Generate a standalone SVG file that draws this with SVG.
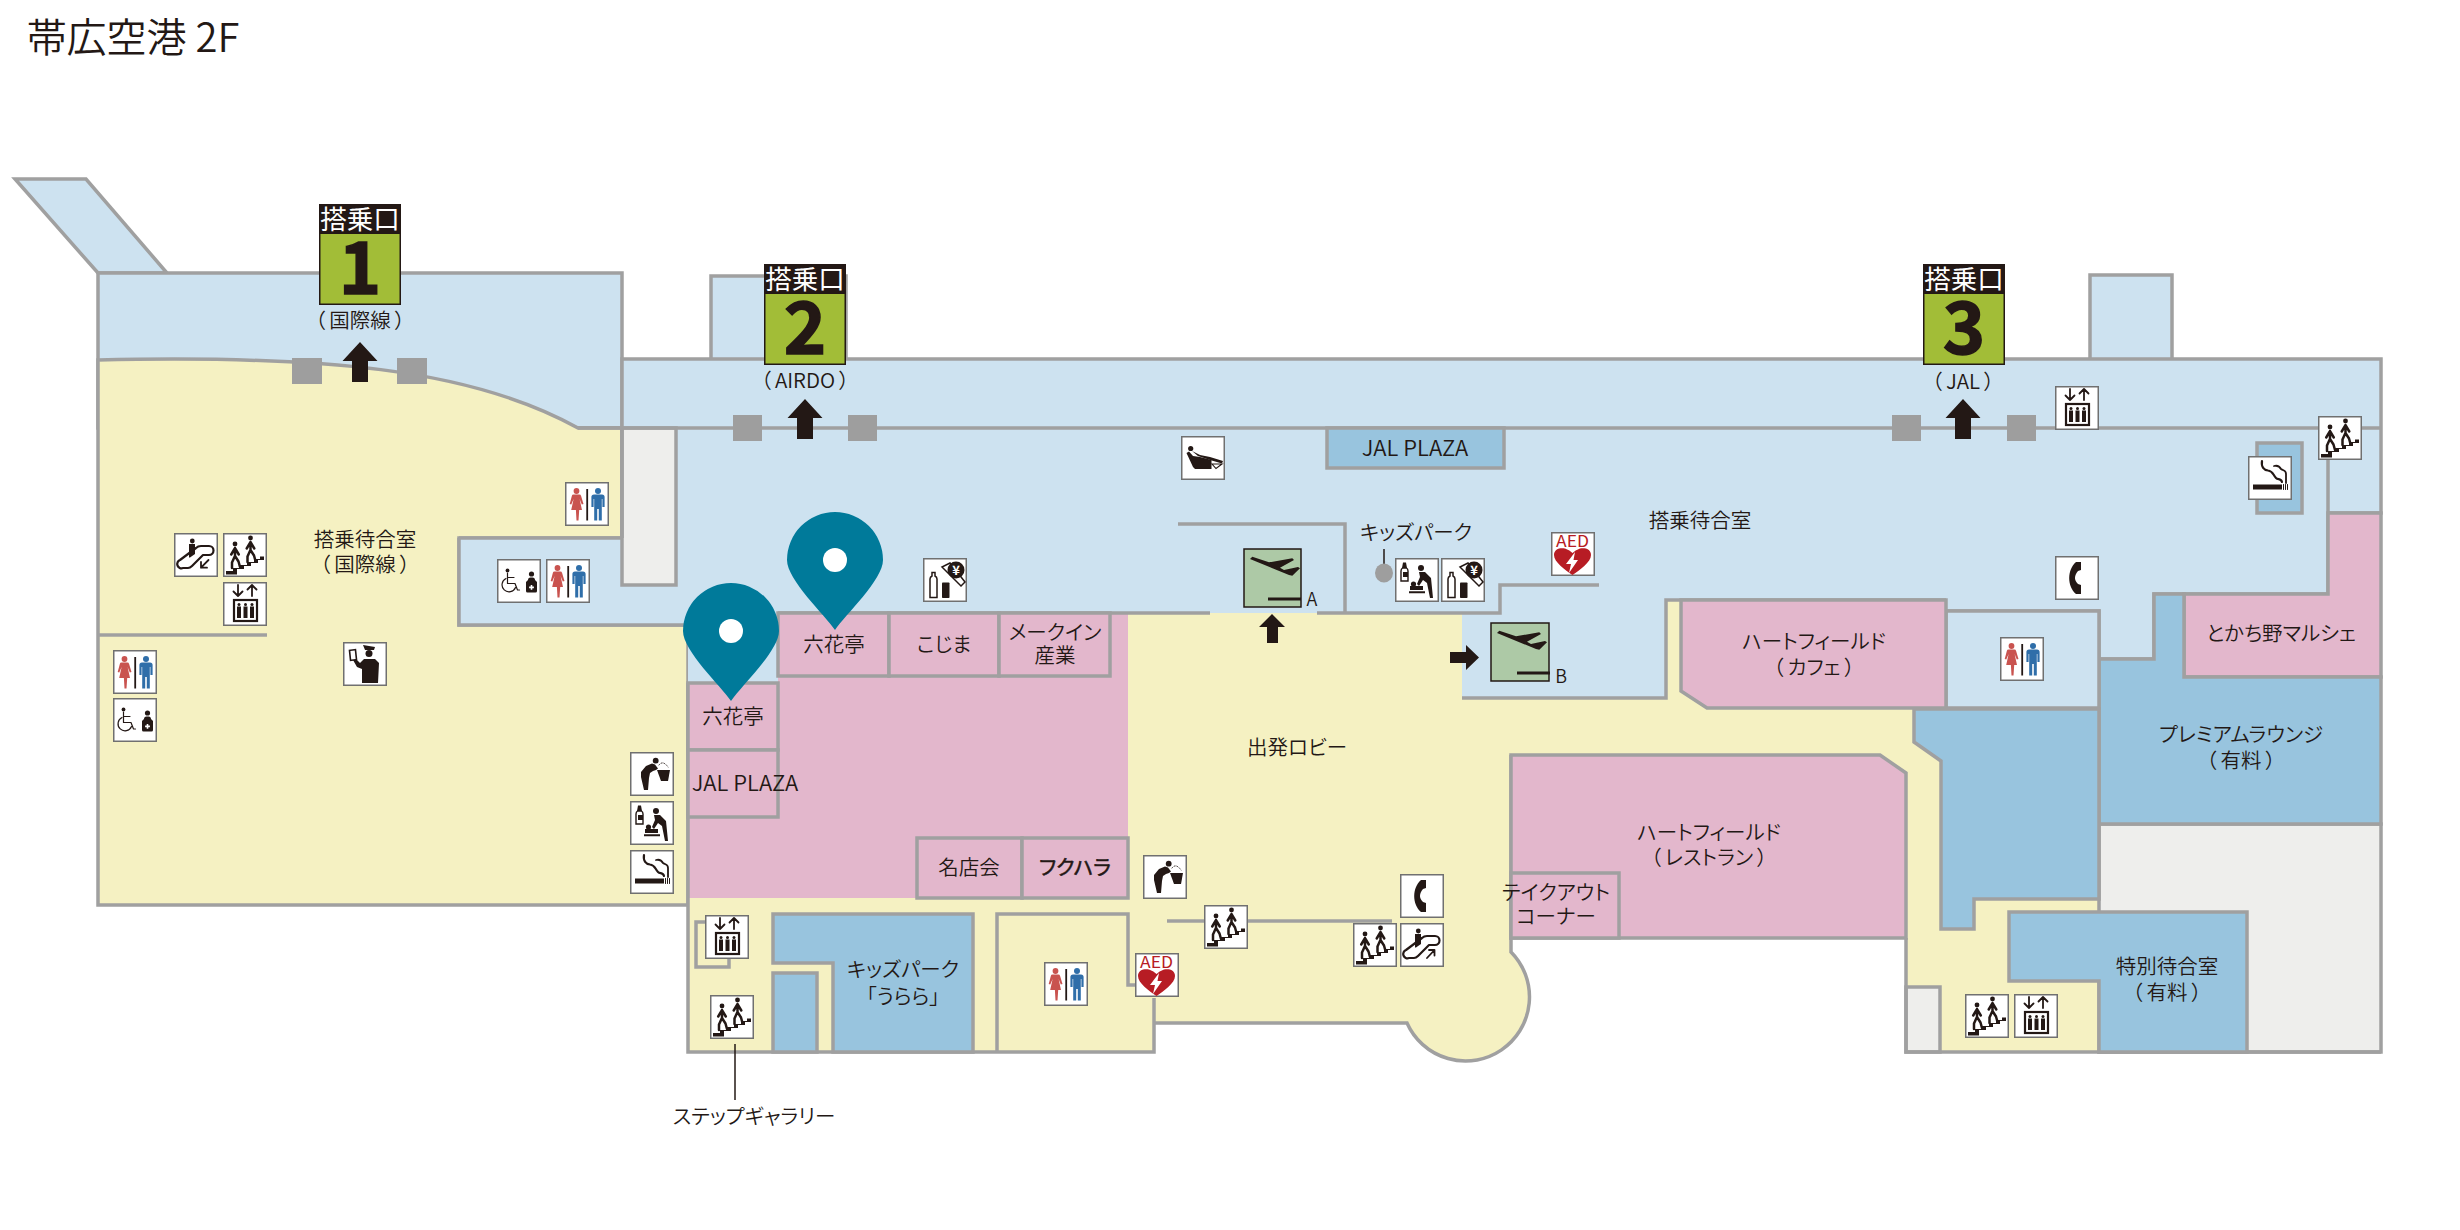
<svg xmlns="http://www.w3.org/2000/svg" xmlns:xlink="http://www.w3.org/1999/xlink" width="2460" height="1230" viewBox="0 0 2460 1230">
<style>
text{font-family:"Noto Sans CJK JP","Noto Sans",sans-serif;fill:#231815;text-anchor:middle;font-size:20.5px;font-weight:350;font-feature-settings:"palt"}
.b{stroke:#a0a0a0;stroke-width:3.5;stroke-linejoin:miter}
.l{fill:none;stroke:#a0a0a0;stroke-width:3.5}
.lb{fill:#cde2f0}.db{fill:#98c4de}.ye{fill:#f5f1c2}.pk{fill:#e3b7cc}.gy{fill:#eeeeec}
.pil{fill:#9e9e9e}
.k{fill:#231815}
.ks{fill:none;stroke:#231815;stroke-linecap:round;stroke-linejoin:round}
.ib{fill:#fff;stroke:#707070;stroke-width:1.5}
.pin{fill:#007a9a}
.lead{fill:none;stroke:#231815;stroke-width:1.5}
text.sl{fill:#fff;font-size:26.5px;font-weight:400}
text.dg{font-size:72px;font-weight:700;stroke:#231815;stroke-width:1.5}
text.jp{font-size:22px}
</style>
<defs>
<g id="up"><path class="k" d="M0,0 L17.5,19 H8 V40 H-8 V19 H-17.5Z"/></g>
<g id="signbase"><rect x="0" y="0" width="82" height="101" fill="#231815"/><rect x="1.5" y="30" width="79" height="69.5" fill="#a2bd37"/></g>
<symbol id="rest" viewBox="0 0 44 44"><rect class="ib" x=".75" y=".75" width="42.5" height="42.5"/>
<circle cx="11.5" cy="9" r="2.9" fill="#c9534f"/><path fill="#c9534f" d="M8.5,12.5 h6 q1.2,0 1.6,1.4 L18.5,22 l-1.7,.6 -2.2,-5.5 2.4,11 h-2.8 l-.7,10.5 h-2 l-.6,-10.5 H6.2 l2.4,-11 -2.3,5.5 -1.6,-.6 2.2,-8.2 q.2,-1.3 1.6,-1.3z"/>
<rect x="21.3" y="7" width="1.8" height="31.5" fill="#231815"/>
<circle cx="33" cy="9" r="3" fill="#2f6ea9"/><path fill="#2f6ea9" d="M29,12.5 h8 q2.6,0 2.6,2.6 V25 h-2.2 v-8 h-.6 V38.5 h-3 V27 h-1.6 V38.5 h-3 V17 h-.6 v8 H26.4 V15.1 q0,-2.6 2.6,-2.6z"/></symbol>
<symbol id="wheel" viewBox="0 0 44 44"><rect class="ib" x=".75" y=".75" width="42.5" height="42.5"/>
<g transform="translate(0,-2.5)"><circle cx="10.5" cy="14" r="1.9" class="k"/><path class="ks" stroke-width="1.2" d="M10.5,16.5 V27 H18 L20.5,33.5 h2 M10.5,21 H17"/><path class="ks" stroke-width="1.2" d="M9,22 A7,7 0 1 0 18.5,31"/></g>
<circle cx="34.5" cy="15" r="2.6" class="k"/><path class="k" d="M31,21 q0,-2.5 2.5,-2.5 h2 q2.5,0 2.5,2.5 l2,2 V32 q0,1.5 -1.5,1.5 H30.5 q-1.5,0 -1.5,-1.5 V23z"/><path fill="#fff" d="M33.7,26 h1.6 v1.6 h1.6 v1.6 h-1.6 v1.6 h-1.6 v-1.6 h-1.6 v-1.6 h1.6z"/></symbol>
<g id="men"><circle cx="0" cy="0" r="2.4" class="k"/><path class="ks" stroke-width="2.5" d="M0,4 V12 M-.2,4.5 L-3.8,10.5 M.2,4.5 L3.8,10.5 M-.3,12.5 L-3,18.5 V24 M.3,12.5 L3.5,17.5 L5,23"/></g>
<symbol id="stairs" viewBox="0 0 44 44"><rect class="ib" x=".75" y=".75" width="42.5" height="42.5"/>
<use xlink:href="#men" x="12" y="11"/><use xlink:href="#men" x="27.5" y="5"/>
<path class="k" d="M3,41.5 V38 H10 V35 H17 V32 H24 V29 H31 V26 H37 V23.5 H41 V27 H35 V30 H28 V33 H21 V36 H14 V41.5Z"/></symbol>
<symbol id="elev" viewBox="0 0 44 44"><rect class="ib" x=".75" y=".75" width="42.5" height="42.5"/>
<path class="ks" stroke-width="1.8" d="M15,3 V14 M10.5,9.5 L15,14 L19.5,9.5 M29,14 V3 M24.5,7.5 L29,3 L33.5,7.5"/>
<rect x="11" y="18" width="23" height="21" fill="#fff" stroke="#231815" stroke-width="2.2"/>
<g class="k"><circle cx="16" cy="22.5" r="1.5"/><circle cx="22.5" cy="22.5" r="1.5"/><circle cx="29" cy="22.5" r="1.5"/><rect x="14" y="24.5" width="4" height="11.5"/><rect x="20.5" y="24.5" width="4" height="11.5"/><rect x="27" y="24.5" width="4" height="11.5"/></g></symbol>
<g id="escbase"><path class="ks" stroke-width="2.2" d="M6,27 L22,15 Q24,13 27,13 H35 A4.5,4.5 0 0 1 35,22 H29 L18,33 Q16,35 14,35 H9 A4,4 0 0 1 6,27Z"/><circle cx="18.3" cy="8" r="2.4" class="k"/><path class="k" d="M15,11 h6 V21 L16,24.5 h-1z"/></g>
<symbol id="escdn" viewBox="0 0 44 44"><rect class="ib" x=".75" y=".75" width="42.5" height="42.5"/><use xlink:href="#escbase"/><path class="ks" stroke-width="1.8" d="M34.5,27 L27,34.7 M27,29 V34.7 H33"/></symbol>
<symbol id="escup" viewBox="0 0 44 44"><rect class="ib" x=".75" y=".75" width="42.5" height="42.5"/><use xlink:href="#escbase"/><path class="ks" stroke-width="1.8" d="M27,35 L34.5,27 M29,27 H34.5 V32.5"/></symbol>
<symbol id="smoke" viewBox="0 0 44 44"><rect class="ib" x=".75" y=".75" width="42.5" height="42.5"/>
<path class="ks" stroke-width="2.2" d="M14,5 C13,11 16,14 20,14.5 C25,15 25,19 28,22 C30,24 33,22 34,26"/><path class="ks" stroke-width="1.8" d="M26,10 C30,9 32,11 33,13 C36,15 38,14 38,18 V27"/>
<rect x="5" y="28.5" width="29" height="5" class="k"/><path class="ks" stroke-width="1" d="M35.5,28.5 V33.5 M37.5,28.5 V33.5 M39.5,28.5 V33.5"/></symbol>
<symbol id="phone" viewBox="0 0 44 44"><rect class="ib" x=".75" y=".75" width="42.5" height="42.5"/>
<path class="k" d="M26,6 L21,6 C12,14 12,30 21,38 L26,38 L26,29 L23,28 C19,24 19,20 23,15 L26,14z"/></symbol>
<symbol id="fount" viewBox="0 0 44 44"><rect class="ib" x=".75" y=".75" width="42.5" height="42.5"/>
<circle cx="25.7" cy="8.7" r="2.9" class="k"/><path class="k" d="M22,11.5 L25,12.5 L28,16.5 L26,18 L23,19 L20,21 L19,26 L18,38 H14 L11,25 V20 L16,14z"/><path class="k" d="M27,18 H40 L38,29 H31z"/><path class="ks" stroke-width=".9" stroke-dasharray="1 1.8" d="M29,13 Q33,8 38,15"/></symbol>
<symbol id="baby" viewBox="0 0 44 44"><rect class="ib" x=".75" y=".75" width="42.5" height="42.5"/>
<path fill="#fff" stroke="#231815" stroke-width="1.4" d="M6,13 q0,-2 1.5,-3 h4 q1.5,1 1.5,3 V23 H6z"/><path class="k" d="M8,4.5 h3 l1,5.5 h-5z M8,14 h5 v5 H8z"/>
<circle cx="26" cy="10" r="3" class="k"/><path class="k" d="M24,14 H30 L36,20 L38,40 H35 L32,25 L28,22 L24,28 L22,26 L25,19z"/>
<circle cx="18.5" cy="26" r="2.6" class="k"/><path class="k" d="M15,28 H28 V32 H15z M14,33.3 H30 V35.3 H14z"/></symbol>
<symbol id="vend" viewBox="0 0 44 44"><rect class="ib" x=".75" y=".75" width="42.5" height="42.5"/>
<path fill="#fff" stroke="#231815" stroke-width="1.5" d="M7,21 q0,-2 2,-3 V14.5 h3 V18 q2,1 2,3 V39.5 H7z"/>
<rect x="19" y="24.5" width="7.5" height="15.5" rx=".8" class="k"/>
<path fill="#fff" stroke="#231815" stroke-width="1.5" d="M19,9 L38,28 L42,24 L27,5z"/>
<circle cx="33" cy="12" r="8.5" class="k"/><text x="33" y="16.5" style="fill:#fff;font-size:13px;font-weight:700">¥</text></symbol>
<symbol id="aed" viewBox="0 0 44 44"><rect class="ib" x=".75" y=".75" width="42.5" height="42.5"/>
<text x="21.5" y="15" textLength="33" lengthAdjust="spacingAndGlyphs" style="fill:#b71c24;font-size:16px;font-weight:400">AED</text>
<path fill="#b71c24" d="M21.5,43 C14,38 3,30 3,23 C3,17 9,15.5 14,16.5 Q19,18 21.5,21 Q24,18 29,16.5 C34,15.5 40,17 40,23 C40,30 29,38 21.5,43Z"/>
<path fill="#fff" d="M24,20 L15,32 H20 L18,41 L27,28 H22.5z"/></symbol>
<symbol id="seat" viewBox="0 0 44 44"><rect class="ib" x=".75" y=".75" width="42.5" height="42.5"/>
<circle cx="9.7" cy="12.5" r="2.6" class="k"/><path class="k" d="M5.5,17 L8,15.5 L12,20 L19,21 L30.5,24 V33 H14 L12,31z"/><path class="k" d="M11,15 L19,19 L29,21 L42,25 L41,27.5 L29,24 L17,20z"/><path fill="#fff" stroke="#231815" stroke-width="1.1" d="M31,28 L41,28 L35,32.5z"/></symbol>
<symbol id="off" viewBox="0 0 44 44"><rect class="ib" x=".75" y=".75" width="42.5" height="42.5"/>
<path class="k" d="M20,3 L32,5 L31,8 H22z"/><circle cx="26" cy="11.5" r="3.5" class="k"/>
<path class="k" d="M21,17 L32,17 L36,21 L35,41 H19 V27 L14,25 L10,18 L13,17 L17,21z"/>
<rect x="7" y="8" width="6" height="10" fill="#fff" stroke="#231815" stroke-width="1.6" transform="rotate(-6 10 13)"/></symbol>
<g id="plane"><path class="k" d="M6,10 L8.3,7.7 L25,13.3 L48.3,9.3 L50,11 L36,18.7 L40,21 L54,18 L56,19.3 L48.3,26.7 L45,26Z"/></g>
</defs>
<rect width="2460" height="1230" fill="#fff"/>
<g id="floor">
<polygon id="wing" class="lb b" points="15,179 86,179 167,273 98,273"/>
<polygon id="gate-hall-1" class="lb b" points="98,273 622,273 622,428 98,428"/>
<path id="intl-lounge" class="ye b" d="M98,360 C320,355 470,368 578,428 L622,428 V538 H459 V625 H688 V905 H98Z"/>
<rect x="711" y="276" width="135" height="85" class="lb b"/>
<rect x="2090" y="275" width="82" height="85" class="lb b"/>
<path id="lobby" class="ye" d="M1128,600 H1946 V708 H1914 V742 L1941,761 V929 H1974 V899 H2099 V1052 H1906 V938 H1511 V952 A64,64 0 1 1 1407,1023 H1154 V1052 H688 V898 H1128Z"/>
<path id="main-hall" class="lb" d="M622,359 H2381 V513 H2328 V594 H2154 V659 H2099 V708 H1946 V600 H1666 V698 H1462 V613 H778 V683 H688 V625 H459 V538 H622Z"/>
<rect x="622" y="428" width="54" height="157" class="gy b"/>
<path id="shop-block" class="pk" d="M778,613 H1128 V898 H688 V683 H778Z"/>
<rect x="2099" y="824" width="282" height="228" class="gy b"/>
<rect x="1906" y="987" width="34" height="65" class="gy b"/>
<path class="l" d="M688,683 V1052 H1154 V1023 H1407 A64,64 0 1 0 1511,952 V938 M1906,938 V1052 H2381 M1511,938 V755 M1154,998 V1023"/>
<path class="l" d="M622,538 V359 H2381 V513 H2328 M459,538 H622 M459,538 V625 H688 M778,613 H1210 M1317,613 H1500 V585 H1599 M1345,613 V524 H1178 M1462,698 H1666 V600 H1946 M1946,611 H2099 V708 M2099,659 H2154 V594 H2328 V428 M578,428 H2381"/>
<rect x="1327" y="428" width="177" height="40" class="db b"/>
<rect x="2257" y="443" width="45" height="70" class="db b"/>
<path class="pk b" d="M2328,513 H2381 V677 H2184 V594 H2328Z"/>
<path class="db b" d="M2099,659 H2154 V594 H2184 V677 H2381 V824 H2099Z"/>
<path class="db b" d="M1914,709 H2099 V899 H1974 V929 H1941 V761 L1914,742Z"/>
<path class="db b" d="M2009,912 H2247 V1052 H2099 V981 H2009Z"/>
<path class="lb b" d="M1946,611 H2099 V708 H1946Z"/>
<path class="pk b" d="M1681,600 H1946 V708 H1707 L1681,691Z"/>
<path class="pk b" d="M1511,755 H1880 L1906,773 V938 H1511Z"/>
<rect x="1511" y="873" width="108" height="65" class="pk b"/>
<rect x="688" y="683" width="90" height="67" class="pk b"/>
<rect x="688" y="750" width="90" height="67" class="pk b"/>
<rect x="778" y="613" width="111" height="63" class="pk b"/>
<rect x="889" y="613" width="110" height="63" class="pk b"/>
<rect x="999" y="613" width="111" height="63" class="pk b"/>
<rect x="917" y="838" width="105" height="60" class="pk b"/>
<rect x="1022" y="838" width="106" height="60" class="pk b"/>
<path class="db b" d="M773,914 H973 V1052 H833 V963 H773Z"/>
<rect x="773" y="973" width="44" height="79" class="db b"/>
<path class="l" d="M1135,985 H1128 V914 H997 V1052"/>
<path class="l" d="M1167,921 H1392"/>
<path class="l" d="M267,635 H97"/>
<path class="l" d="M705,922 H696 V967 H729 V959"/>
</g>
<g id="connectors">
<path class="lead" d="M735,1044 V1100"/>
<path class="lead" d="M1384,549 V566"/>
</g>
<ellipse id="kids-marker" cx="1384" cy="573" rx="9" ry="9.5" fill="#9e9e9e"/>
<g id="pillars" class="pil">
<rect x="292" y="358" width="30" height="26"/><rect x="397" y="358" width="30" height="26"/>
<rect x="733" y="415" width="29" height="26"/><rect x="848" y="415" width="29" height="26"/>
<rect x="1892" y="415" width="29" height="26"/><rect x="2007" y="415" width="29" height="26"/>
</g>
<g id="arrows">
<use xlink:href="#up" x="360" y="342"/><use xlink:href="#up" x="805" y="399"/><use xlink:href="#up" x="1963" y="399"/>
<path class="k" d="M1272,614 L1285,627 H1278 V643 H1267 V627 H1259Z"/>
<path class="k" d="M1479,657.5 L1466,645 V652 H1450 V663 H1466 V670Z"/>
</g>
<g id="gate-1"><use xlink:href="#signbase" x="319" y="204"/><text class="sl" x="360" y="229">搭乗口</text><text class="dg" x="360" y="294">1</text><text x="360" y="328">（<tspan dx="4">国際線</tspan><tspan dx="4">）</tspan></text></g>
<g id="gate-2"><use xlink:href="#signbase" x="764" y="264"/><text class="sl" x="805" y="289">搭乗口</text><text class="dg" x="805" y="354">2</text><text x="805" y="388">（<tspan dx="4">AIRDO</tspan><tspan dx="4">）</tspan></text></g>
<g id="gate-3"><use xlink:href="#signbase" x="1923" y="264"/><text class="sl" x="1964" y="289">搭乗口</text><text class="dg" x="1964" y="354">3</text><text x="1963" y="389">（<tspan dx="4">JAL</tspan><tspan dx="4">）</tspan></text></g>
<g id="gate-a"><rect x="1244" y="549" width="57" height="58" fill="#adc9a6" stroke="#231815" stroke-width="1.5"/><use xlink:href="#plane" x="1244" y="549"/><rect x="1268" y="597.5" width="33" height="3" class="k"/><text x="1312" y="606" style="font-size:18px">A</text></g>
<g id="gate-b"><rect x="1491" y="623" width="58" height="58" fill="#adc9a6" stroke="#231815" stroke-width="1.5"/><use xlink:href="#plane" x="1491" y="623"/><rect x="1517" y="671.5" width="33" height="3" class="k"/><text x="1561" y="683" style="font-size:18px">B</text></g>
<g id="icons">
<use xlink:href="#rest" x="565" y="482" width="44" height="44"/>
<use xlink:href="#escdn" x="174" y="533" width="44" height="44"/>
<use xlink:href="#stairs" x="223" y="533" width="44" height="44"/>
<use xlink:href="#elev" x="223" y="582" width="44" height="44"/>
<use xlink:href="#wheel" x="497" y="559" width="44" height="44"/>
<use xlink:href="#rest" x="546" y="559" width="44" height="44"/>
<use xlink:href="#rest" x="113" y="650" width="44" height="44"/>
<use xlink:href="#wheel" x="113" y="698" width="44" height="44"/>
<use xlink:href="#off" x="343" y="642" width="44" height="44"/>
<use xlink:href="#fount" x="630" y="752" width="44" height="44"/>
<use xlink:href="#baby" x="630" y="801" width="44" height="44"/>
<use xlink:href="#smoke" x="630" y="850" width="44" height="44"/>
<use xlink:href="#vend" x="923" y="558" width="44" height="44"/>
<use xlink:href="#seat" x="1181" y="436" width="44" height="44"/>
<use xlink:href="#baby" x="1395" y="558" width="44" height="44"/>
<use xlink:href="#vend" x="1441" y="558" width="44" height="44"/>
<use xlink:href="#aed" x="1551" y="532" width="44" height="44"/>
<use xlink:href="#elev" x="2055" y="386" width="44" height="44"/>
<use xlink:href="#stairs" x="2318" y="416" width="44" height="44"/>
<use xlink:href="#smoke" x="2248" y="456" width="44" height="44"/>
<use xlink:href="#phone" x="2055" y="556" width="44" height="44"/>
<use xlink:href="#rest" x="2000" y="637" width="44" height="44"/>
<use xlink:href="#elev" x="705" y="915" width="44" height="44"/>
<use xlink:href="#stairs" x="710" y="995" width="44" height="44"/>
<use xlink:href="#fount" x="1143" y="855" width="44" height="44"/>
<use xlink:href="#stairs" x="1204" y="905" width="44" height="44"/>
<use xlink:href="#phone" x="1400" y="874" width="44" height="44"/>
<use xlink:href="#stairs" x="1353" y="923" width="44" height="44"/>
<use xlink:href="#escup" x="1400" y="923" width="44" height="44"/>
<use xlink:href="#aed" x="1135" y="953" width="44" height="44"/>
<use xlink:href="#rest" x="1044" y="962" width="44" height="44"/>
<use xlink:href="#stairs" x="1965" y="994" width="44" height="44"/>
<use xlink:href="#elev" x="2014" y="994" width="44" height="44"/>
</g>
<g id="labels">
<text x="133" y="52" style="font-size:40px">帯広空港 2F</text>
<text x="365" y="547">搭乗待合室</text><text x="365" y="572">（<tspan dx="4">国際線</tspan><tspan dx="4">）</tspan></text>
<text class="jp" x="1415" y="456">JAL PLAZA</text>
<text x="1416" y="540">キッズパーク</text>
<text x="1700" y="528">搭乗待合室</text>
<text x="1814" y="649">ハートフィールド</text><text x="1814" y="675">（<tspan dx="4">カフェ</tspan><tspan dx="4">）</tspan></text>
<text x="2281" y="641">とかち野マルシェ</text>
<text x="2241" y="742">プレミアムラウンジ</text><text x="2241" y="768">（<tspan dx="4">有料</tspan><tspan dx="4">）</tspan></text>
<text x="1709" y="840">ハートフィールド</text><text x="1709" y="865">（<tspan dx="4">レストラン</tspan><tspan dx="4">）</tspan></text>
<text x="1556" y="900">テイクアウト</text><text x="1556" y="924">コーナー</text>
<text x="2167" y="974">特別待合室</text><text x="2167" y="1000">（<tspan dx="4">有料</tspan><tspan dx="4">）</tspan></text>
<text x="903" y="977">キッズパーク</text><text x="903" y="1004">「うらら」</text>
<text x="969" y="875">名店会</text><text x="1075" y="875" style="font-weight:400;stroke:#231815;stroke-width:.5">フクハラ</text>
<text x="1297" y="755">出発ロビー</text>
<text x="834" y="652">六花亭</text><text x="733" y="724">六花亭</text>
<text class="jp" x="745" y="791">JAL PLAZA</text>
<text x="944" y="652">こじま</text>
<text x="1055" y="640">メークイン</text><text x="1055" y="663">産業</text>
<text x="754" y="1124">ステップギャラリー</text>
</g>
<g id="pin-1"><path class="pin" d="M835,630 C825,615 787,580 787,560 A48,48 0 0 1 883,560 C883,580 845,615 835,630Z"/><circle cx="835" cy="560" r="12" fill="#fff"/></g>
<g id="pin-2"><path class="pin" d="M731,701 C721,686 683,651 683,631 A48,48 0 0 1 779,631 C779,651 741,686 731,701Z"/><circle cx="731" cy="631" r="12" fill="#fff"/></g>
</svg>
